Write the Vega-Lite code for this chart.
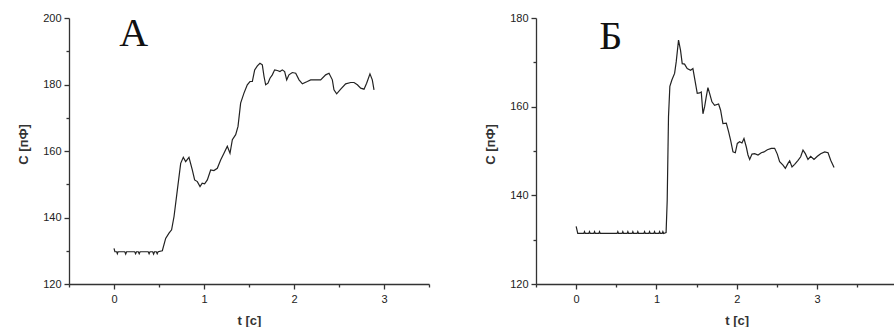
{
  "$schema": "https://vega.github.io/schema/vega-lite/v6.json",
  "background": "white",
  "padding": {"left": 17, "top": 12, "right": 0, "bottom": 0},
  "spacing": 107,
  "bounds": "flush",
  "config": {
    "view": {"stroke": null},
    "axis": {
      "grid": false,
      "ticks": true,
      "domainColor": "#333",
      "domainWidth": 1.3,
      "tickColor": "#333",
      "tickWidth": 1.3,
      "labelFont": "Liberation Sans",
      "labelFontSize": 11,
      "labelColor": "#222",
      "labelPadding": 3,
      "labelFlush": false,
      "titleFont": "Liberation Sans",
      "titleFontSize": 13,
      "titleFontWeight": "bold",
      "titleColor": "#333"
    }
  },
  "datasets": {
    "a": [
      {"t": 0.0, "c": 130.7}, {"t": 0.01, "c": 129.7}, {"t": 0.03, "c": 129.7}, {"t": 0.037, "c": 129.1}, {"t": 0.045, "c": 129.7},
      {"t": 0.12, "c": 129.7}, {"t": 0.13, "c": 129.0}, {"t": 0.14, "c": 129.7}, {"t": 0.23, "c": 129.7}, {"t": 0.24, "c": 129.1},
      {"t": 0.25, "c": 129.7}, {"t": 0.27, "c": 129.7}, {"t": 0.28, "c": 129.1}, {"t": 0.29, "c": 129.7}, {"t": 0.38, "c": 129.7},
      {"t": 0.39, "c": 129.1}, {"t": 0.4, "c": 129.7}, {"t": 0.43, "c": 129.7}, {"t": 0.44, "c": 129.0}, {"t": 0.45, "c": 129.7},
      {"t": 0.47, "c": 129.7}, {"t": 0.48, "c": 129.1}, {"t": 0.49, "c": 129.7}, {"t": 0.537, "c": 130.0}, {"t": 0.574, "c": 133.7},
      {"t": 0.611, "c": 135.3}, {"t": 0.64, "c": 136.3}, {"t": 0.667, "c": 140.3}, {"t": 0.704, "c": 148.3}, {"t": 0.741, "c": 156.3},
      {"t": 0.77, "c": 158.1}, {"t": 0.796, "c": 156.8}, {"t": 0.833, "c": 158.1}, {"t": 0.87, "c": 154.3}, {"t": 0.896, "c": 151.3},
      {"t": 0.926, "c": 150.8}, {"t": 0.956, "c": 149.3}, {"t": 0.98, "c": 150.3}, {"t": 1.007, "c": 150.1}, {"t": 1.037, "c": 151.3},
      {"t": 1.074, "c": 154.3}, {"t": 1.11, "c": 154.1}, {"t": 1.148, "c": 154.8}, {"t": 1.185, "c": 157.3}, {"t": 1.222, "c": 159.3},
      {"t": 1.259, "c": 161.4}, {"t": 1.289, "c": 159.3}, {"t": 1.315, "c": 163.4}, {"t": 1.352, "c": 164.9}, {"t": 1.378, "c": 167.4},
      {"t": 1.407, "c": 174.4}, {"t": 1.444, "c": 177.4}, {"t": 1.481, "c": 179.9}, {"t": 1.511, "c": 180.9}, {"t": 1.537, "c": 180.9},
      {"t": 1.563, "c": 184.4}, {"t": 1.593, "c": 185.6}, {"t": 1.622, "c": 186.4}, {"t": 1.648, "c": 185.9}, {"t": 1.667, "c": 182.4},
      {"t": 1.685, "c": 179.9}, {"t": 1.711, "c": 180.4}, {"t": 1.733, "c": 181.9}, {"t": 1.759, "c": 182.9}, {"t": 1.785, "c": 184.4},
      {"t": 1.815, "c": 184.2}, {"t": 1.844, "c": 183.9}, {"t": 1.87, "c": 184.4}, {"t": 1.896, "c": 183.9}, {"t": 1.919, "c": 181.4},
      {"t": 1.944, "c": 182.9}, {"t": 1.981, "c": 183.6}, {"t": 2.019, "c": 183.4}, {"t": 2.056, "c": 181.4}, {"t": 2.093, "c": 180.2},
      {"t": 2.148, "c": 180.9}, {"t": 2.185, "c": 181.4}, {"t": 2.241, "c": 181.4}, {"t": 2.296, "c": 181.4}, {"t": 2.352, "c": 182.9},
      {"t": 2.389, "c": 183.4}, {"t": 2.426, "c": 181.4}, {"t": 2.444, "c": 178.4}, {"t": 2.474, "c": 177.2}, {"t": 2.519, "c": 178.6},
      {"t": 2.574, "c": 180.2}, {"t": 2.63, "c": 180.6}, {"t": 2.667, "c": 180.6}, {"t": 2.704, "c": 179.9}, {"t": 2.741, "c": 178.9},
      {"t": 2.778, "c": 178.6}, {"t": 2.807, "c": 180.4}, {"t": 2.844, "c": 183.2}, {"t": 2.87, "c": 181.4}, {"t": 2.889, "c": 178.4}
    ],
    "b": [
      {"t": 0.0, "c": 133.0}, {"t": 0.02, "c": 131.4}, {"t": 0.095, "c": 131.4}, {"t": 0.104, "c": 131.8}, {"t": 0.113, "c": 131.4},
      {"t": 0.157, "c": 131.4}, {"t": 0.166, "c": 131.8}, {"t": 0.175, "c": 131.4}, {"t": 0.22, "c": 131.4}, {"t": 0.229, "c": 131.8},
      {"t": 0.238, "c": 131.4}, {"t": 0.282, "c": 131.4}, {"t": 0.291, "c": 131.8}, {"t": 0.3, "c": 131.4}, {"t": 0.51, "c": 131.4},
      {"t": 0.519, "c": 131.8}, {"t": 0.528, "c": 131.4}, {"t": 0.572, "c": 131.4}, {"t": 0.581, "c": 131.8}, {"t": 0.59, "c": 131.4},
      {"t": 0.635, "c": 131.4}, {"t": 0.644, "c": 131.8}, {"t": 0.653, "c": 131.4}, {"t": 0.697, "c": 131.4}, {"t": 0.706, "c": 131.8},
      {"t": 0.715, "c": 131.4}, {"t": 0.759, "c": 131.4}, {"t": 0.768, "c": 131.8}, {"t": 0.777, "c": 131.4}, {"t": 0.843, "c": 131.4},
      {"t": 0.852, "c": 131.8}, {"t": 0.861, "c": 131.4}, {"t": 0.905, "c": 131.4}, {"t": 0.914, "c": 131.8}, {"t": 0.923, "c": 131.4},
      {"t": 0.967, "c": 131.4}, {"t": 0.976, "c": 131.8}, {"t": 0.985, "c": 131.4}, {"t": 1.03, "c": 131.4}, {"t": 1.039, "c": 131.8},
      {"t": 1.048, "c": 131.4}, {"t": 1.071, "c": 131.4}, {"t": 1.08, "c": 131.8}, {"t": 1.089, "c": 131.4}, {"t": 1.12, "c": 131.6},
      {"t": 1.134, "c": 138.9}, {"t": 1.15, "c": 157.7}, {"t": 1.167, "c": 164.6}, {"t": 1.192, "c": 166.0}, {"t": 1.226, "c": 167.5},
      {"t": 1.246, "c": 170.1}, {"t": 1.275, "c": 175.0}, {"t": 1.3, "c": 172.7}, {"t": 1.321, "c": 169.7}, {"t": 1.35, "c": 169.6},
      {"t": 1.383, "c": 168.6}, {"t": 1.425, "c": 168.2}, {"t": 1.454, "c": 168.6}, {"t": 1.483, "c": 165.6}, {"t": 1.508, "c": 163.0},
      {"t": 1.537, "c": 163.1}, {"t": 1.558, "c": 163.3}, {"t": 1.579, "c": 158.4}, {"t": 1.6, "c": 160.0}, {"t": 1.62, "c": 162.2},
      {"t": 1.641, "c": 164.3}, {"t": 1.662, "c": 163.0}, {"t": 1.691, "c": 161.1}, {"t": 1.724, "c": 160.3}, {"t": 1.774, "c": 160.6},
      {"t": 1.799, "c": 159.2}, {"t": 1.828, "c": 156.2}, {"t": 1.87, "c": 156.3}, {"t": 1.899, "c": 154.3}, {"t": 1.924, "c": 152.4},
      {"t": 1.953, "c": 149.8}, {"t": 1.982, "c": 149.6}, {"t": 2.007, "c": 151.7}, {"t": 2.036, "c": 152.1}, {"t": 2.065, "c": 151.8},
      {"t": 2.09, "c": 152.8}, {"t": 2.119, "c": 150.9}, {"t": 2.14, "c": 149.1}, {"t": 2.161, "c": 148.1}, {"t": 2.19, "c": 149.3},
      {"t": 2.223, "c": 149.4}, {"t": 2.265, "c": 149.1}, {"t": 2.306, "c": 149.6}, {"t": 2.339, "c": 149.8}, {"t": 2.381, "c": 150.3},
      {"t": 2.43, "c": 150.6}, {"t": 2.472, "c": 150.6}, {"t": 2.505, "c": 149.3}, {"t": 2.534, "c": 147.6}, {"t": 2.576, "c": 146.8},
      {"t": 2.605, "c": 146.1}, {"t": 2.638, "c": 147.2}, {"t": 2.659, "c": 147.8}, {"t": 2.688, "c": 146.4}, {"t": 2.721, "c": 147.0},
      {"t": 2.763, "c": 147.9}, {"t": 2.796, "c": 148.7}, {"t": 2.825, "c": 150.2}, {"t": 2.854, "c": 149.4}, {"t": 2.887, "c": 148.1},
      {"t": 2.921, "c": 148.8}, {"t": 2.962, "c": 148.1}, {"t": 3.004, "c": 148.8}, {"t": 3.045, "c": 149.4}, {"t": 3.095, "c": 149.8},
      {"t": 3.137, "c": 149.6}, {"t": 3.17, "c": 147.9}, {"t": 3.212, "c": 146.3}
    ],
    "la": [{"label": "А"}],
    "lb": [{"label": "Б"}]
  },
  "hconcat": [
    {
      "width": 360,
      "height": 266,
      "resolve": {"axis": {"x": "independent", "y": "independent"}},
      "layer": [
        {
          "data": {"name": "a"},
          "mark": {"type": "line", "color": "#222", "strokeWidth": 1.2},
          "encoding": {
            "x": {
              "field": "t", "type": "quantitative",
              "scale": {"domain": [-0.5, 3.5], "nice": false, "zero": false},
              "axis": {"orient": "bottom", "title": "t [c]", "titlePadding": 10, "labelPadding": 4, "values": [0, 1, 2, 3], "format": "d", "tickSize": 5}
            },
            "y": {
              "field": "c", "type": "quantitative",
              "scale": {"domain": [120, 200], "nice": false, "zero": false},
              "axis": {"orient": "left", "title": "C [пФ]", "titlePadding": 12, "titleY": 126, "values": [120, 140, 160, 180, 200], "format": "d", "tickSize": 5}
            }
          }
        },
        {
          "data": {"name": "la"},
          "mark": {"type": "text", "font": "Liberation Serif", "fontSize": 40, "baseline": "alphabetic", "align": "center", "color": "#111"},
          "encoding": {
            "x": {
              "datum": 0.22, "type": "quantitative",
              "axis": {"orient": "bottom", "title": null, "labels": false, "domain": false, "values": [-0.5, 0.5, 1.5, 2.5, 3.5], "tickSize": 3}
            },
            "y": {
              "datum": 191.6, "type": "quantitative",
              "axis": {"orient": "left", "title": null, "labels": false, "domain": false, "values": [130, 150, 170, 190], "tickSize": 3}
            },
            "text": {"field": "label"}
          }
        }
      ]
    },
    {
      "width": 401.5,
      "height": 266,
      "resolve": {"axis": {"x": "independent", "y": "independent"}},
      "layer": [
        {
          "data": {"name": "b"},
          "mark": {"type": "line", "color": "#222", "strokeWidth": 1.2},
          "encoding": {
            "x": {
              "field": "t", "type": "quantitative",
              "scale": {"domain": [-0.5, 4.5], "nice": false, "zero": false},
              "axis": {"orient": "bottom", "title": "t [c]", "titlePadding": 10, "labelPadding": 4, "values": [0, 1, 2, 3, 4], "format": "d", "tickSize": 5}
            },
            "y": {
              "field": "c", "type": "quantitative",
              "scale": {"domain": [120, 180], "nice": false, "zero": false},
              "axis": {"orient": "left", "title": "C [пФ]", "titlePadding": 12, "titleY": 126, "values": [120, 140, 160, 180], "format": "d", "tickSize": 5}
            }
          }
        },
        {
          "data": {"name": "lb"},
          "mark": {"type": "text", "font": "Liberation Serif", "fontSize": 40, "baseline": "alphabetic", "align": "center", "color": "#111"},
          "encoding": {
            "x": {
              "datum": 0.43, "type": "quantitative",
              "axis": {"orient": "bottom", "title": null, "labels": false, "domain": false, "values": [-0.5, 0.5, 1.5, 2.5, 3.5, 4.5], "tickSize": 3}
            },
            "y": {
              "datum": 172.9, "type": "quantitative",
              "axis": {"orient": "left", "title": null, "labels": false, "domain": false, "values": [130, 150, 170], "tickSize": 3}
            },
            "text": {"field": "label"}
          }
        }
      ]
    }
  ]
}
